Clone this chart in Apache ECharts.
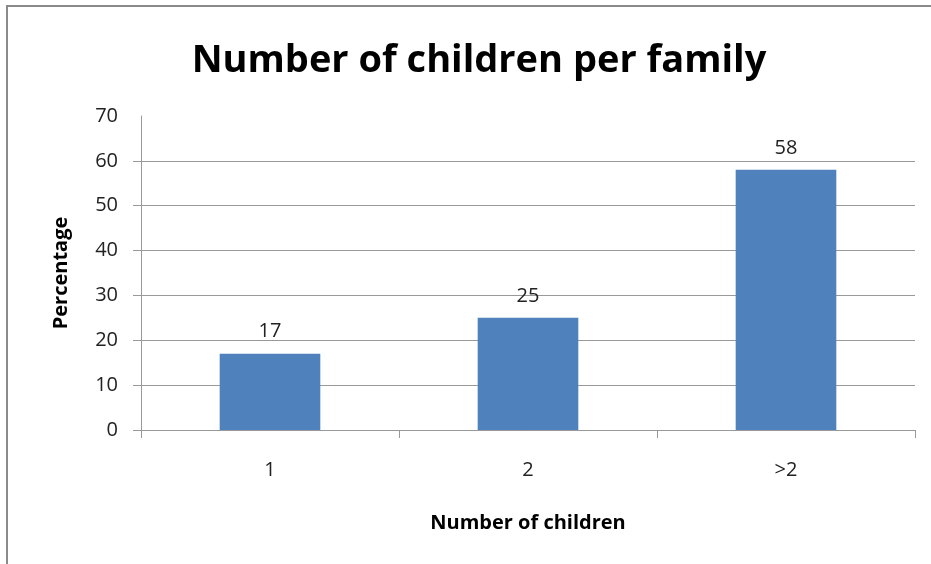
<!DOCTYPE html>
<html><head><meta charset="utf-8">
<script src="https://cdn.jsdelivr.net/npm/echarts@6/dist/echarts.min.js"></script>
<style>html,body{margin:0;padding:0;background:#fff}#c{width:931px;height:564px}</style>
</head><body><div id="c"></div>
<script>
const categories = ['1', '2', '>2'];
const values = [17, 25, 58];
const yTicks = [0, 10, 20, 30, 40, 50, 60, 70];
const yGridTicks = [0, 10, 20, 30, 40, 50, 60];

const chart = echarts.init(document.getElementById('c'));
chart.setOption({
  animation: false,
  backgroundColor: '#fff',
  graphic: [
    { type: 'line', shape: { x1: 7, y1: 6, x2: 7, y2: 564 }, style: { stroke: '#8a8a8a', lineWidth: 2 } },
    { type: 'line', shape: { x1: 6, y1: 6, x2: 931, y2: 6 }, style: { stroke: '#8a8a8a', lineWidth: 2 } }
  ],
  title: {
    text: 'Number of children per family',
    left: 474, top: 37, textAlign: 'center',
    textStyle: { fontFamily: 'Open Sans', fontWeight: 'bold', fontSize: 38, color: '#000' }
  },
  grid: { left: 141, right: 16, top: 116, bottom: 134 },
  xAxis: {
    type: 'category', data: categories,
    name: 'Number of children', nameLocation: 'middle', nameGap: 83,
    nameTextStyle: { fontFamily: 'Open Sans', fontWeight: 'bold', fontSize: 20, color: '#000' },
    axisLine: { lineStyle: { color: '#999', width: 1 } },
    axisTick: { show: true, length: 8, lineStyle: { color: '#999' } },
    axisLabel: { margin: 30, fontFamily: 'Open Sans', fontSize: 20, color: '#222' }
  },
  yAxis: {
    type: 'value', min: 0, max: 70, interval: 10,
    name: 'Percentage', nameLocation: 'middle', nameGap: 70, nameRotate: 90,
    nameTextStyle: { fontFamily: 'Open Sans', fontWeight: 'bold', fontSize: 20, color: '#000' },
    axisLine: { show: true, lineStyle: { color: '#999' } },
    axisTick: { show: true, length: 8, customValues: yGridTicks, lineStyle: { color: '#999' } },
    axisLabel: { margin: 23, fontFamily: 'Open Sans', fontSize: 20, color: '#222',
      formatter: v => yTicks.includes(v) ? String(v) : '' },
    splitLine: { lineStyle: { color: ['#999', '#999', '#999', '#999', '#999', '#999', '#999', 'rgba(0,0,0,0)'], width: 1 } }
  },
  series: [{
    type: 'bar', data: values, barWidth: '39%',
    itemStyle: { color: '#4F81BD' },
    label: { show: true, position: 'top', distance: 12, fontFamily: 'Open Sans', fontSize: 20, color: '#222' }
  }]
});
</script></body></html>
